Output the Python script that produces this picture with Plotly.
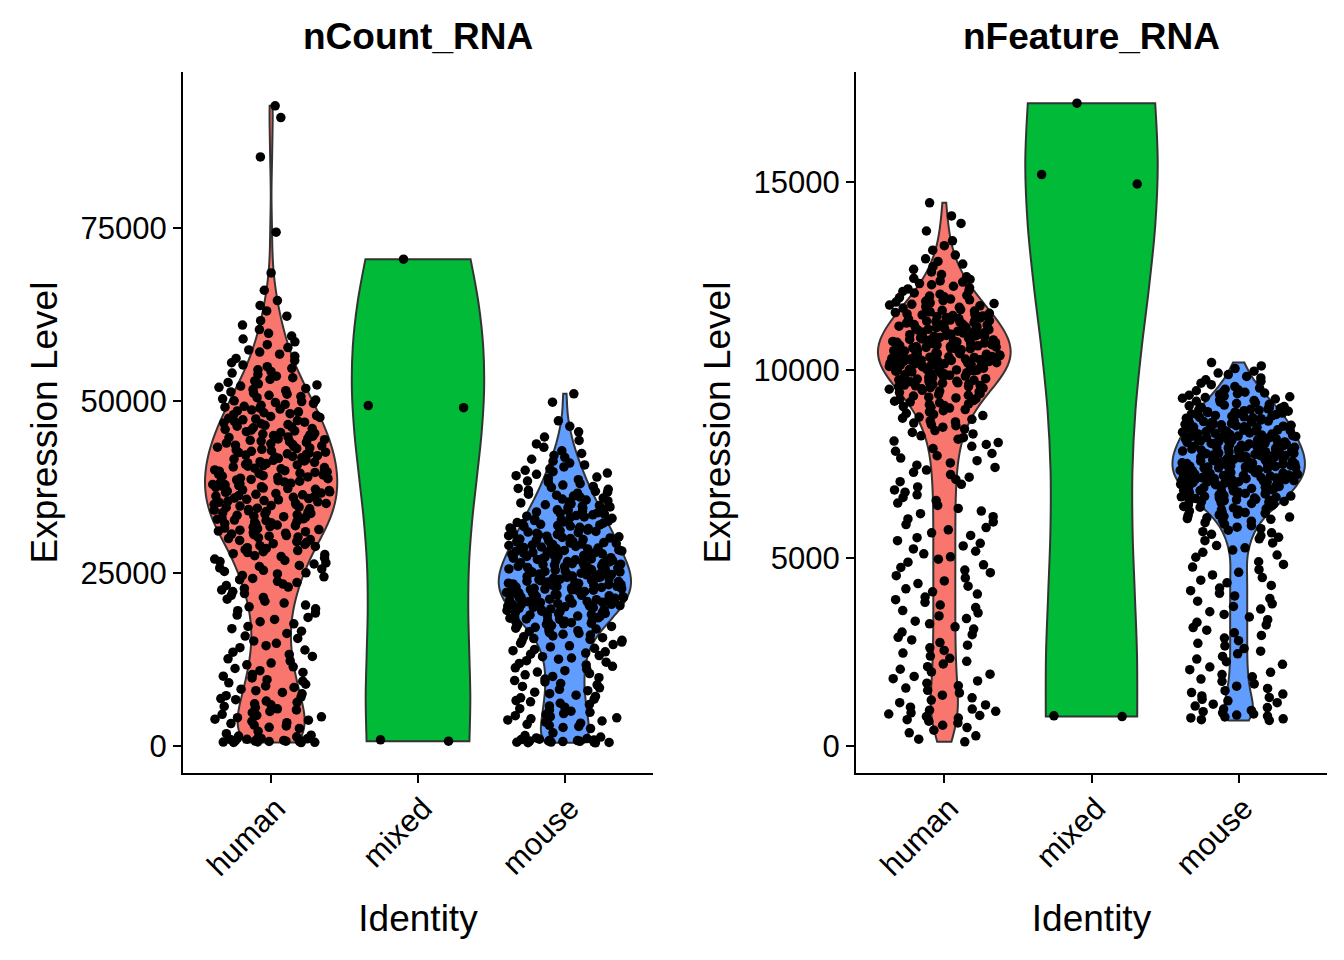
import numpy as np
import plotly.graph_objects as go

groups = ["human", "mixed", "mouse"]
group_colors = ["#F8766D", "#00BA38", "#619CFF"]

# nCount_RNA per identity
human_ncount = [
    505, 520, 548, 575, 603, 640, 662, 705, 731, 778, 812, 846, 893, 941, 985, 1042, 1107, 1163,
    1249, 1338, 1452, 1580, 1795, 2130,
    2560, 2710, 2905, 3040, 3260, 3390, 3580, 3750, 3900, 4110, 4240, 4450, 4600, 4830,
    5020, 5230, 5390, 5580, 5740, 5970, 6120, 6330, 6510, 6720, 6880, 7090, 7300,
    7560, 7770, 8020, 8240, 8480, 8700, 8950, 9150, 9400, 9610, 9870,
    10120, 10370, 10660, 10920, 11230, 11470, 11770, 12020, 12320,
    12630, 12980, 13270, 13600, 13910, 14250, 14540, 14880,
    15220, 15590, 15930, 16300, 16640, 17000, 17330,
    17700, 18000, 18340, 18630, 18970, 19260, 19600, 19870,
    20160, 20410, 20710, 20970, 21270, 21520, 21820, 22080, 22380,
    22600, 22830, 23020, 23250, 23450, 23670, 23860, 24090, 24280, 24510, 24700, 24930,
    25080, 25280, 25440, 25640, 25800, 26000, 26160, 26360, 26520, 26720, 26880, 27080, 27240, 27440,
    27570, 27730, 27860, 28020, 28150, 28310, 28440, 28610, 28730, 28900, 29020, 29190, 29310,
    29480, 29610, 29770, 29900,
    30040, 30170, 30260, 30390, 30480, 30610, 30690, 30820, 30910, 31040, 31130, 31260, 31340,
    31470, 31560, 31690, 31780, 31910, 32000, 32120, 32210, 32340, 32430,
    32530, 32650, 32720, 32840, 32910, 33030, 33100, 33220, 33290, 33410, 33490, 33600, 33680,
    33790, 33870, 33980, 34060, 34170, 34250, 34360, 34440, 34560, 34630, 34750, 34820, 34940,
    35010, 35120, 35190, 35300, 35370, 35480, 35550, 35660, 35730, 35840, 35910, 36020, 36090,
    36200, 36270, 36380, 36450, 36560, 36630, 36740, 36810, 36920, 36990, 37100, 37170, 37280,
    37350, 37460,
    37530, 37640, 37710, 37820, 37890, 38000, 38070, 38180, 38250, 38360, 38430, 38540, 38610,
    38720, 38790, 38900, 38970, 39080, 39150, 39260, 39330, 39440, 39510, 39620, 39690, 39800,
    39870, 39980,
    40040, 40150, 40230, 40330, 40420, 40520, 40610, 40710, 40800, 40900, 40990, 41090, 41180,
    41280, 41370, 41470, 41560, 41660, 41750, 41850, 41940, 42040, 42130, 42230, 42320, 42420, 42490,
    42560, 42670, 42760, 42870, 42960, 43070, 43160, 43270, 43360, 43470, 43560, 43670, 43760,
    43870, 43960, 44070, 44160, 44270, 44360, 44470, 44560, 44670, 44760, 44870, 44960,
    45060, 45170, 45290, 45400, 45520, 45630, 45750, 45860, 45980, 46090, 46210, 46320, 46440,
    46550, 46670, 46780, 46900, 47010, 47130, 47240, 47360, 47470,
    47580, 47720, 47850, 47990, 48120, 48260, 48390, 48530, 48660, 48800, 48930, 49070, 49200,
    49340, 49470, 49610, 49740, 49880, 49990,
    50110, 50280, 50440, 50610, 50780, 50950, 51110, 51280, 51450, 51620, 51780, 51950, 52120,
    52290, 52450,
    52640, 52870, 53100, 53330, 53560, 53790, 54010, 54240, 54470, 54700, 54930,
    55190, 55500, 55810, 56120, 56430, 56740, 57050, 57360,
    57700, 58110, 58530, 58940, 59360, 59770,
    60300, 60950, 61600, 62250, 63000, 63800, 64500, 66000, 68500,
    74400, 85300, 91000, 92700,
]
mixed_ncount = [70500, 49300, 49000, 700, 900]
mouse_ncount = [
    470, 495, 520, 552, 580, 611, 645, 680, 712, 751, 790, 836, 884, 940, 1003, 1080, 1175, 1310,
    1530, 1920,
    2540, 2690, 2840, 3010, 3150, 3320, 3460, 3630, 3780, 3940, 4090, 4250, 4400, 4570, 4710, 4880,
    5050, 5240, 5420, 5630, 5810, 6020, 6200, 6410, 6590, 6790, 6980, 7180, 7370,
    7590, 7800, 8020, 8220, 8440, 8640, 8860, 9060, 9280, 9480, 9700, 9900,
    10090, 10310, 10500, 10720, 10920, 11130, 11330, 11540, 11740, 11960, 12150, 12370,
    12580, 12750, 12940, 13110, 13300, 13460, 13650, 13810, 14000, 14160, 14350, 14510, 14700, 14880,
    15050, 15180, 15310, 15440, 15560, 15690, 15810, 15940, 16070, 16190, 16320, 16440, 16570,
    16700, 16820, 16950, 17070, 17200, 17330, 17450,
    17540, 17610, 17700, 17770, 17870, 17930, 18030, 18090, 18190, 18250, 18350, 18410, 18510,
    18570, 18670, 18730, 18830, 18890, 18990, 19050, 19150, 19210, 19310, 19370, 19470, 19530,
    19630, 19690, 19790, 19850, 19950,
    20030, 20090, 20160, 20210, 20280, 20340, 20400, 20460, 20530, 20580, 20650, 20710, 20770,
    20830, 20900, 20950, 21020, 21080, 21140, 21200, 21270, 21320, 21390, 21450, 21510, 21570,
    21640, 21690, 21760, 21820, 21880, 21940, 22010, 22060, 22130, 22190, 22250, 22310, 22380, 22440,
    22510, 22560, 22620, 22680, 22730, 22790, 22850, 22900, 22960, 23020, 23080, 23130, 23190,
    23250, 23300, 23360, 23420, 23470, 23530, 23590, 23650, 23700, 23760, 23820, 23870, 23930,
    23990, 24040, 24100, 24160, 24220, 24270, 24330, 24390, 24440, 24500, 24560, 24610, 24670,
    24730, 24790, 24840, 24900, 24960,
    25030, 25090, 25150, 25210, 25280, 25340, 25400, 25460, 25530, 25590, 25650, 25710, 25780,
    25840, 25900, 25960, 26030, 26090, 26150, 26210, 26280, 26340, 26400, 26460, 26530, 26590,
    26650, 26710, 26780, 26840, 26900, 26960, 27030, 27090, 27150, 27210, 27280, 27340, 27400, 27460,
    27540, 27610, 27680, 27750, 27830, 27900, 27970, 28040, 28110, 28180, 28250, 28330, 28400,
    28470, 28540, 28610, 28680, 28750, 28830, 28900, 28970, 29040, 29110, 29180, 29250, 29330,
    29400, 29470, 29540, 29610, 29680, 29750, 29830, 29900, 29970,
    30040, 30130, 30210, 30300, 30390, 30470, 30560, 30640, 30730, 30820, 30900, 30990, 31070,
    31160, 31250, 31330, 31420, 31500, 31590, 31680, 31760, 31850, 31930, 32020, 32110, 32190,
    32280, 32360, 32450,
    32550, 32650, 32760, 32860, 32970, 33070, 33170, 33280, 33380, 33490, 33590, 33690, 33800,
    33900, 34010, 34110, 34210, 34320, 34420, 34530, 34630, 34730, 34840, 34940,
    35070, 35210, 35350, 35490, 35630, 35770, 35910, 36050, 36190, 36330, 36470, 36610, 36750,
    36890, 37030, 37170, 37310, 37450,
    37600, 37790, 37990, 38180, 38370, 38570, 38760, 38950, 39150, 39340, 39530, 39730, 39920,
    40140, 40420, 40700, 40970, 41250, 41530, 41810, 42080, 42360,
    42750, 43250, 43750, 44250, 44750, 45500, 46300, 47100, 49800, 51000,
]

# nFeature_RNA per identity
human_nfeature = [
    110, 180, 270, 350, 420, 490, 550, 610, 660, 700, 740, 780, 810, 850, 880, 920, 950, 980,
    1030, 1090, 1150, 1220, 1280, 1350, 1410, 1480, 1540, 1600, 1670, 1730, 1790, 1850, 1910, 1970,
    2040, 2110, 2180, 2250, 2330, 2390, 2470, 2540, 2610, 2680, 2750, 2820, 2890, 2960,
    3030, 3110, 3170, 3250, 3320, 3390, 3460, 3540, 3600, 3680, 3750, 3820, 3890, 3960,
    4040, 4100, 4180, 4250, 4320, 4390, 4470, 4530, 4610, 4680, 4750, 4820, 4890, 4970,
    5030, 5110, 5180, 5240, 5320, 5390, 5460, 5540, 5600, 5670, 5750, 5810, 5890, 5960,
    6040, 6100, 6180, 6250, 6320, 6400, 6460, 6530, 6610, 6680, 6750, 6810, 6890, 6960,
    7030, 7090, 7150, 7220, 7280, 7340, 7410, 7470, 7530, 7590, 7660, 7720, 7780, 7840, 7910, 7970,
    8020, 8070, 8110, 8160, 8200, 8250, 8300, 8340, 8390, 8430, 8480,
    8520, 8550, 8590, 8620, 8650, 8690, 8720, 8750, 8790, 8820, 8850, 8890, 8920, 8950, 8990,
    9010, 9030, 9060, 9080, 9100, 9130, 9150, 9170, 9190, 9220, 9240, 9260, 9280, 9310, 9330,
    9350, 9370, 9400, 9420, 9440, 9460, 9490,
    9500, 9520, 9530, 9550, 9560, 9580, 9590, 9600, 9620, 9630, 9650, 9660, 9670, 9690, 9700,
    9720, 9730, 9740, 9760, 9770, 9790, 9800, 9810, 9830, 9840, 9860, 9870, 9880, 9900, 9910,
    9930, 9940, 9950, 9970, 9980, 9990, 9995,
    10004, 10013, 10021, 10032, 10040, 10049, 10061, 10068, 10079, 10090, 10098, 10111, 10117,
    10128, 10139, 10147, 10158, 10166, 10178, 10186, 10197, 10208, 10215, 10226, 10237, 10245,
    10256, 10264, 10275, 10287, 10294, 10305, 10313, 10324, 10336, 10343, 10354, 10362, 10373,
    10385, 10392, 10403, 10411, 10422, 10434, 10441, 10452, 10460, 10471, 10488,
    10506, 10517, 10527, 10538, 10549, 10559, 10570, 10580, 10591, 10602, 10612, 10623, 10633,
    10644, 10655, 10665, 10676, 10686, 10697, 10708, 10718, 10729, 10739, 10750, 10761, 10771,
    10782, 10792, 10803, 10814, 10824, 10835, 10845, 10856, 10867, 10877, 10888, 10898, 10909,
    10920, 10930, 10941, 10951, 10962, 10973, 10983, 10994,
    11007, 11020, 11034, 11047, 11061, 11074, 11088, 11101, 11115, 11128, 11142, 11155, 11169,
    11182, 11196, 11209, 11223, 11236, 11250, 11263, 11277, 11290, 11304, 11317, 11331, 11344,
    11358, 11371, 11385, 11398, 11412, 11425, 11439, 11452, 11466, 11479, 11493,
    11510, 11530, 11550, 11570, 11590, 11610, 11630, 11650, 11670, 11690, 11710, 11730, 11750,
    11770, 11790, 11810, 11830, 11850, 11870, 11890, 11910, 11930, 11950, 11970, 11990,
    12020, 12050, 12090, 12120, 12160, 12190, 12230, 12270, 12300, 12340, 12370, 12410, 12440, 12480,
    12540, 12610, 12680, 12750, 12820, 12890, 12960,
    13060, 13190, 13310, 13440, 13700, 13900, 14100, 14450,
]
mixed_nfeature = [17100, 15200, 14950, 800, 780]
mouse_nfeature = [
    680, 700, 720, 745, 770, 795, 820, 850, 880, 910, 945, 980,
    1020, 1060, 1110, 1150, 1200, 1240, 1290, 1330, 1380, 1420, 1470,
    1530, 1590, 1650, 1720, 1780, 1840, 1900, 1960,
    2030, 2100, 2170, 2240, 2310, 2380, 2450, 2520, 2590, 2660, 2730, 2800, 2870, 2940,
    3010, 3080, 3150, 3220, 3290, 3360, 3430, 3500, 3570, 3640, 3710, 3780, 3850, 3920, 3990,
    4060, 4130, 4200, 4270, 4340, 4410, 4480, 4550, 4620, 4690, 4760, 4830, 4900,
    5020, 5080, 5150, 5210, 5270, 5330, 5400, 5460,
    5510, 5550, 5590, 5630, 5670, 5700, 5740, 5780, 5820, 5860, 5900, 5940, 5980,
    6010, 6030, 6050, 6070, 6090, 6110, 6130, 6150, 6170, 6190, 6210, 6230, 6250, 6270, 6290,
    6310, 6330, 6350, 6370, 6390, 6410, 6430, 6450, 6470, 6480, 6495,
    6505, 6516, 6527, 6538, 6549, 6560, 6572, 6583, 6594, 6605, 6616, 6627, 6638, 6649, 6660,
    6672, 6683, 6694, 6705, 6716, 6727, 6738, 6749, 6760, 6772, 6783, 6794, 6805, 6816, 6827,
    6838, 6849, 6860, 6872, 6883, 6894, 6905, 6916, 6927, 6938, 6949, 6960, 6972, 6983, 6994,
    7004, 7013, 7022, 7030, 7039, 7048, 7057, 7066, 7074, 7083, 7092, 7101, 7110, 7118, 7127,
    7136, 7145, 7154, 7162, 7171, 7180, 7189, 7198, 7206, 7215, 7224, 7233, 7242, 7250, 7259,
    7268, 7277, 7286, 7294, 7303, 7312, 7321, 7330, 7338, 7347, 7356, 7365, 7374, 7382, 7391,
    7400, 7409, 7418, 7426, 7435, 7444, 7453, 7462, 7470, 7479, 7488, 7497,
    7504, 7513, 7522, 7531, 7540, 7549, 7558, 7567, 7576, 7585, 7594, 7603, 7612, 7621, 7630,
    7639, 7648, 7657, 7666, 7675, 7684, 7693, 7702, 7711, 7720, 7729, 7738, 7747, 7756, 7765,
    7774, 7783, 7792, 7801, 7810, 7819, 7828, 7837, 7846, 7855, 7864, 7873, 7882, 7891, 7900,
    7909, 7918, 7927, 7936, 7945, 7954, 7963, 7972, 7981, 7990, 7998,
    8005, 8015, 8026, 8036, 8047, 8057, 8067, 8078, 8088, 8099, 8109, 8119, 8130, 8140, 8151,
    8161, 8171, 8182, 8192, 8203, 8213, 8223, 8234, 8244, 8255, 8265, 8275, 8286, 8296, 8307,
    8317, 8327, 8338, 8348, 8359, 8369, 8379, 8390, 8400, 8411, 8421, 8431, 8442, 8452, 8463,
    8473, 8483, 8494,
    8506, 8519, 8531, 8544, 8556, 8569, 8581, 8594, 8606, 8619, 8631, 8644, 8656, 8669, 8681,
    8694, 8706, 8719, 8731, 8744, 8756, 8769, 8781, 8794, 8806, 8819, 8831, 8844, 8856, 8869,
    8881, 8894, 8906, 8919, 8931, 8944, 8956, 8969, 8981, 8994,
    9010, 9030, 9050, 9070, 9090, 9110, 9130, 9150, 9170, 9190, 9210, 9230, 9250, 9270, 9290,
    9310, 9330, 9350, 9370, 9390, 9410, 9430, 9450, 9470, 9490,
    9520, 9560, 9610, 9650, 9700, 9740, 9790, 9830, 9880, 9920, 9970,
    10040, 10110, 10200,
]

panels = [
    ("nCount_RNA", [human_ncount, mixed_ncount, mouse_ncount], [0, 25000, 50000, 75000]),
    ("nFeature_RNA", [human_nfeature, mixed_nfeature, mouse_nfeature], [0, 5000, 10000, 15000]),
]

FONT = "Liberation Sans, Arial, Helvetica, sans-serif"
PAGE_OFFSET = 8  # the html body margin shifts the plot by 8px


def bw_nrd0(values):
    """Bandwidth like R's bw.nrd0 (what geom_violin uses)"""
    v = np.asarray(values, dtype=float)
    sd = v.std(ddof=1)
    q75, q25 = np.percentile(v, [75, 25])
    lo = min(sd, (q75 - q25) / 1.34)
    if lo <= 0:
        lo = sd if sd > 0 else 1.0
    return 0.9 * lo * len(v) ** -0.2


def jitter_bands(values, ratio=3.0, min_size=12):
    """Split sorted values into runs of similar local density.

    plotly shrinks the jitter where points are sparse; doing the jitter per
    run keeps the spread even, like geom_jitter does.
    """
    s = np.sort(np.asarray(values, dtype=float))
    n = len(s)
    if n <= min_size:
        return [s]
    idx = np.arange(n)
    i0 = np.maximum(idx - 5, 0)
    i1 = np.minimum(idx + 5, n - 1)
    dens = (i1 - i0) / (s[i1] - s[i0] + 1e-9)
    lev = np.round(np.log(dens) / np.log(ratio)).astype(int)
    runs = []
    start = 0
    for i in range(1, n + 1):
        if i == n or lev[i] != lev[start]:
            runs.append([start, i, lev[start]])
            start = i
    merged = True
    while merged and len(runs) > 1:
        merged = False
        for k, r in enumerate(runs):
            if r[1] - r[0] < min_size:
                if k == 0:
                    j = 1
                elif k == len(runs) - 1:
                    j = k - 1
                else:
                    j = k - 1 if abs(runs[k - 1][2] - r[2]) <= abs(runs[k + 1][2] - r[2]) else k + 1
                a, b = sorted([k, j])
                runs[a] = [runs[a][0], runs[b][1], runs[j][2]]
                del runs[b]
                merged = True
                break
    return [s[a:b] for a, b, _ in runs]


fig = go.Figure()

# violin bodies first
for i, (title, series, ticks) in enumerate(panels):
    xa, ya = ("x", "y") if i == 0 else ("x2", "y2")
    for name, color, vals in zip(groups, group_colors, series):
        bw = bw_nrd0(vals) * (1.0 if len(vals) < 20 else 0.7)
        fig.add_trace(go.Violin(
            x=[name] * len(vals), y=vals, name=name, xaxis=xa, yaxis=ya,
            fillcolor=color, line=dict(color="#333333", width=2),
            points=False, spanmode="hard", scalemode="width", width=0.9,
            bandwidth=bw, box_visible=False, meanline_visible=False,
            showlegend=False, hoveron="violins",
        ))

# jittered cells on top
for i, (title, series, ticks) in enumerate(panels):
    xa, ya = ("x", "y") if i == 0 else ("x2", "y2")
    for name, vals in zip(groups, series):
        for part in jitter_bands(vals):
            fig.add_trace(go.Violin(
                x=[name] * len(part), y=part, name=name, xaxis=xa, yaxis=ya,
                fillcolor="rgba(0,0,0,0)", line=dict(color="rgba(0,0,0,0)", width=0),
                points="all", pointpos=0, jitter=0.89,
                marker=dict(color="black", size=9.5, line=dict(width=0)),
                spanmode="hard", width=0.9,
                box_visible=False, meanline_visible=False,
                showlegend=False, hoveron="points",
            ))

axis_common = dict(
    showline=True, linecolor="black", linewidth=2,
    ticks="outside", ticklen=8, tickwidth=2, tickcolor="black",
    showgrid=False, zeroline=False,
    tickfont=dict(family=FONT, size=31, color="black"),
)

W, H = 1344, 960
x_px = [(183, 653), (856, 1327)]
x_domains = [[(a - PAGE_OFFSET) / W, (b - PAGE_OFFSET) / W] for a, b in x_px]
y_domain = [1 - (773 - PAGE_OFFSET) / H, 1 - (72 - PAGE_OFFSET) / H]
y_ranges = [[-3900, 97600], [-720, 17930]]

layout_axes = {}
for i in range(2):
    sx = "" if i == 0 else "2"
    layout_axes["xaxis" + sx] = dict(
        axis_common, domain=x_domains[i], anchor="y" + sx,
        type="category", categoryorder="array", categoryarray=groups,
        range=[-0.6, 2.6], tickangle=-45,
        ticklabelshift=5, ticklabelstandoff=-5,
        title=dict(text="Identity", font=dict(family=FONT, size=37, color="black"), standoff=23),
    )
    layout_axes["yaxis" + sx] = dict(
        axis_common, domain=y_domain, anchor="x" + sx,
        range=y_ranges[i], tickvals=panels[i][2], tickformat="d",
        title=dict(text="Expression Level", font=dict(family=FONT, size=37, color="black"), standoff=12),
    )

annotations = []
for i, (title, _, _) in enumerate(panels):
    annotations.append(dict(
        text="<b>" + title + "</b>", x=sum(x_domains[i]) / 2, y=1 - (37 - PAGE_OFFSET) / H,
        xref="paper", yref="paper", xanchor="center", yanchor="middle",
        showarrow=False, font=dict(family=FONT, size=37, color="black"),
    ))

fig.update_layout(
    width=W, height=H,
    margin=dict(l=0, r=0, t=0, b=0),
    paper_bgcolor="white", plot_bgcolor="white",
    violinmode="overlay",
    annotations=annotations,
    **layout_axes,
)

fig.write_html("out.html")
